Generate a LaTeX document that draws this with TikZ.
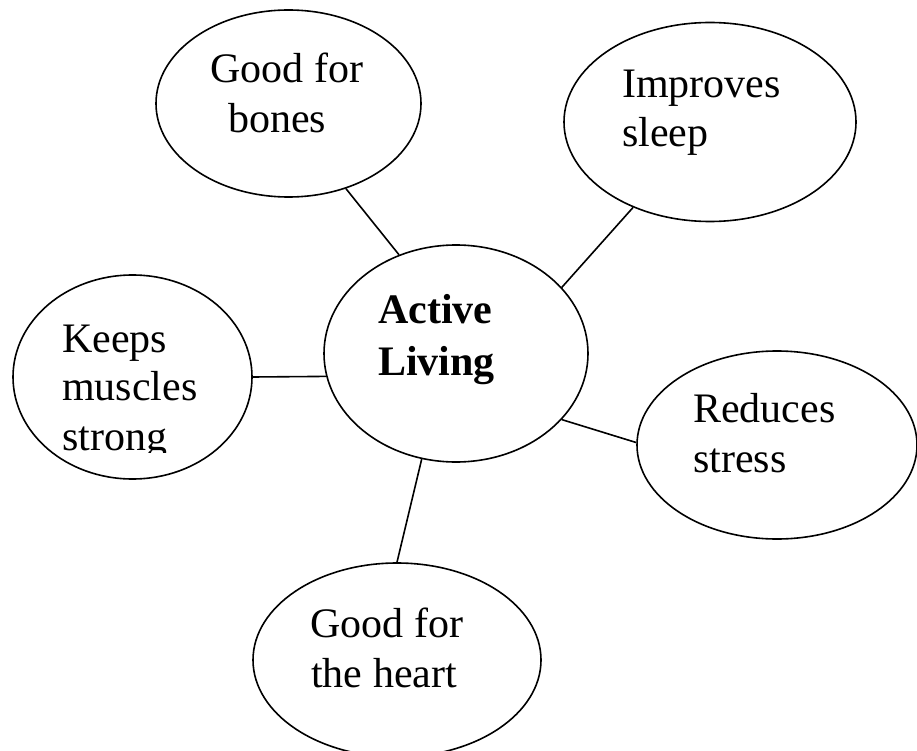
\documentclass[tikz,border=0pt]{standalone}
\usepackage{fontspec}
\setmainfont{Liberation Serif}
\usetikzlibrary{shapes.geometric}
\tikzset{
  bubble/.style={draw=black, line width=1.6pt, ellipse, inner sep=0pt, fill=none},
  conn/.style={draw=black, line width=1.6pt},
  lbl/.style={anchor=base west, inner sep=0pt, font=\fontsize{42}{50}\selectfont},
  blbl/.style={lbl, font=\fontsize{42}{50}\selectfont\bfseries}
}
\begin{document}
\begin{tikzpicture}[x=1pt,y=-1pt]
\useasboundingbox (0,0) rectangle (917,751);
% ellipses
\node[bubble, minimum width=264pt, minimum height=217pt] (center) at (456,353.5) {};
\node[bubble, minimum width=265pt, minimum height=187pt] (bones) at (288.5,103.5) {};
\node[bubble, minimum width=292pt, minimum height=199pt] (sleep) at (710,122) {};
\node[bubble, minimum width=239pt, minimum height=204pt] (muscles) at (132.5,377) {};
\node[bubble, minimum width=280pt, minimum height=188pt] (stress) at (777,445) {};
\node[bubble, minimum width=288pt, minimum height=194pt] (heart) at (397,660) {};
% connectors
\draw[conn] (bones.-56) -- (center.120);
\draw[conn] (sleep.-132) -- (center.32);
\draw[conn] (muscles.0) -- (center.190);
\draw[conn] (stress.179) -- (center.-32);
\draw[conn] (heart.90) -- (center.-108);
% texts
\node[blbl] (centerA) at (378,323) {Active};
\node[blbl] (centerB) at (378,375) {Living};
\node[lbl] (bonesA) at (210,83) {Good for};
\node[lbl] (bonesB) at (228,133) {bones};
\node[lbl] (sleepA) at (622,98) {Improves};
\node[lbl] (sleepB) at (622,147) {sleep};
\node[lbl] (musclesA) at (62,352) {Keeps};
\node[lbl] (musclesB) at (62,400) {muscles};
\begin{scope}
  \clip (0,420) rectangle (300,452);
  \node[lbl] (musclesC) at (62,450) {strong};
\end{scope}
\node[lbl] (stressA) at (693,422) {Reduces};
\node[lbl] (stressB) at (693,472) {stress};
\node[lbl] (heartA) at (310,637) {Good for};
\node[lbl] (heartB) at (311,687) {the heart};
\end{tikzpicture}
\end{document}
